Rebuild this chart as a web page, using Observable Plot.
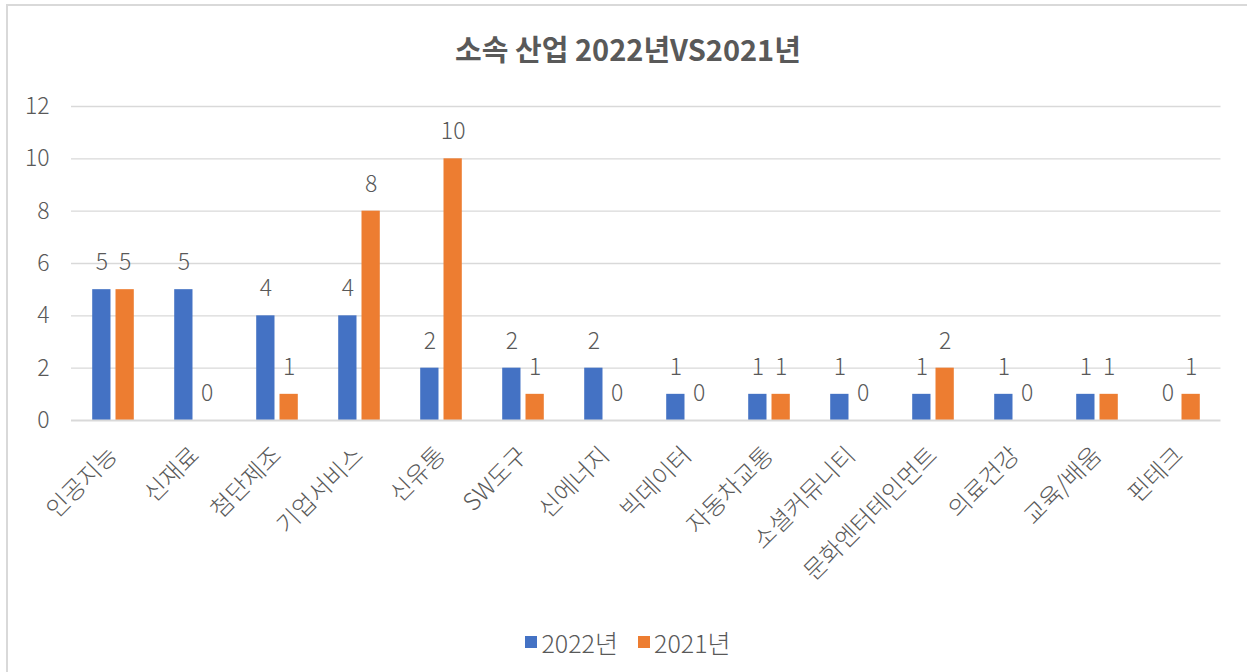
<!DOCTYPE html>
<html>
<head>
<meta charset="utf-8">
<script src="https://cdn.jsdelivr.net/npm/d3@7"></script>
<script src="https://cdn.jsdelivr.net/npm/@observablehq/plot@0.6"></script>
<style>
  html, body { margin: 0; padding: 0; background: #fff; overflow: hidden; }
  #wrap { position: relative; width: 1247px; height: 672px; overflow: hidden; font-family: "Noto Sans CJK KR", "Noto Sans", sans-serif; }
  #frame { position: absolute; left: 6px; top: 4px; width: 1300px; height: 700px; border-left: 2px solid #d9d9d9; border-top: 2px solid #d9d9d9; }
  #title { position: absolute; left: 0; width: 1256px; top: 27px; text-align: center; font-size: 29px; font-weight: bold; color: #595959; }
  #chart { position: absolute; left: 0; top: 80px; }
  #legend { position: absolute; left: 0; width: 1256px; top: 619px; text-align: center; font-size: 25px; font-weight: 300; color: #595959; }
  #legend span.item { display: inline-flex; align-items: center; margin: 0 10px; }
  #legend span.sw { display: inline-block; width: 12px; height: 12px; margin-right: 4px; }
</style>
</head>
<body>
<div id="wrap">
  <div id="frame"></div>
  <div id="title">소속 산업 2022년VS2021년</div>
  <div id="chart"></div>
  <div id="legend"></div>
</div>
<script>
const categories = ["인공지능", "신재료", "첨단제조", "기업서비스", "신유통", "SW도구", "신에너지", "빅데이터", "자동차교통", "소셜커뮤니티", "문화엔터테인먼트", "의료건강", "교육/배움", "핀테크"];
const seriesNames = ["2022년", "2021년"];
const values2022 = [5, 5, 4, 4, 2, 2, 2, 1, 1, 1, 1, 1, 1, 0];
const values2021 = [5, 0, 1, 8, 10, 1, 0, 0, 1, 0, 2, 0, 1, 1];
const yTicks = [0, 2, 4, 6, 8, 10, 12];
const colors = ["#4472C4", "#ED7D31"];

const seriesValues = [values2022, values2021];
const rows = [];
seriesValues.forEach((vals, s) => {
  categories.forEach((c, i) => rows.push({category: c, series: seriesNames[s], value: vals[i], s}));
});

const W = 1247, H = 520;
const mL = 71, mR = 26.5, mT = 26, mB = 180;
const step = (W - mL - mR) / categories.length;
const barW = 18.4;
const inset = (step - barW) / 2;
const off = 11.65;
const textColor = "#595959";

const marks = [
  Plot.ruleY(yTicks.filter(t => t > 0), {stroke: "#d9d9d9", strokeWidth: 1.3}),
  Plot.axisY({ticks: yTicks, tickSize: 0, tickPadding: 22, fontSize: 23, fontWeight: 300, fill: textColor, tickFormat: d => String(d), label: null}),
  Plot.axisX({tickSize: 0, tickRotate: -45, tickPadding: 31, fontSize: 24, fontWeight: 300, fill: textColor, label: null, style: {letterSpacing: "1px"}})
];
seriesNames.forEach((name, s) => {
  const data = rows.filter(r => r.s === s);
  marks.push(Plot.barY(data, {x: "category", y: "value", fill: colors[s], insetLeft: inset, insetRight: inset, dx: s === 0 ? -off : off}));
  marks.push(Plot.text(data, {x: "category", y: "value", text: d => String(d.value), dx: s === 0 ? -off : off, dy: -27, fontSize: 23, fontWeight: 300, fill: textColor}));
});
marks.push(Plot.ruleY([0], {stroke: "#d9d9d9", strokeWidth: 2}));

const chart = Plot.plot({
  width: W, height: H,
  marginLeft: mL, marginRight: mR, marginTop: mT, marginBottom: mB,
  style: {fontFamily: '"Noto Sans CJK KR", "Noto Sans", sans-serif', background: "transparent", color: textColor},
  x: {domain: categories, padding: 0},
  y: {domain: [0, 12], range: [H - mB, mT]},
  marks
});
document.getElementById("chart").appendChild(chart);

const legend = document.getElementById("legend");
seriesNames.forEach((name, s) => {
  const item = document.createElement("span");
  item.className = "item";
  const sw = document.createElement("span");
  sw.className = "sw";
  sw.style.background = colors[s];
  item.appendChild(sw);
  item.appendChild(document.createTextNode(name));
  legend.appendChild(item);
});
</script>
</body>
</html>
